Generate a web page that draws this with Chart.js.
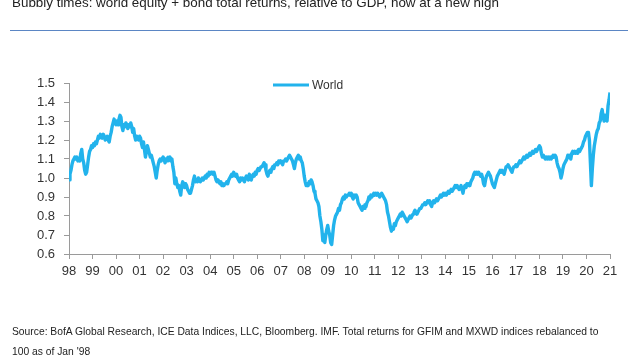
<!DOCTYPE html>
<html>
<head>
<meta charset="utf-8">
<script src="https://cdn.jsdelivr.net/npm/chart.js@4.4.1/dist/chart.umd.min.js"></script>
<style>
  html, body { margin: 0; padding: 0; background: #fff; }
  body { width: 640px; height: 360px; position: relative; overflow: hidden; font-family: "Liberation Sans", Arial, sans-serif; }
  #wrap { position: absolute; left: 0; top: 0; width: 640px; height: 360px; }
  #title { position: absolute; left: 12px; top: -4px; font-size: 13.4px; line-height: 13px; color: #222; white-space: nowrap; }
  #rule { position: absolute; left: 10px; top: 30px; width: 618px; height: 1px; background: #5b86c4; }
  #source { position: absolute; left: 12px; top: 322px; font-size: 10.3px; line-height: 20px; color: #222; white-space: nowrap; }
</style>
</head>
<body>
<div id="wrap"><canvas id="c" width="640" height="360"></canvas></div>
<div id="title">Bubbly times: world equity + bond total returns, relative to GDP, now at a new high</div>
<div id="rule"></div>
<div id="source">Source: BofA Global Research, ICE Data Indices, LLC, Bloomberg. IMF. Total returns for GFIM and MXWD indices rebalanced to<br>100 as of Jan '98</div>
<script>
// ---- data ----
const seriesName = "World";
const startYear = 1998;
const samplesPerYear = 24; // half-monthly readings
const yTicks = [0.6, 0.7, 0.8, 0.9, 1.0, 1.1, 1.2, 1.3, 1.4, 1.5];
const xYears = [1998, 2021];
const worldValues = [
  /*1998*/ 0.99,1.02,1.04,1.07,1.09,1.10,1.11,1.10,1.11,1.09,1.10,1.09,1.13,1.15,1.10,1.08,1.04,1.02,1.03,1.07,1.11,1.14,1.15,1.17,
  /*1999*/ 1.16,1.18,1.17,1.19,1.18,1.20,1.22,1.21,1.23,1.22,1.21,1.23,1.22,1.20,1.21,1.22,1.20,1.19,1.22,1.24,1.27,1.29,1.31,1.29,
  /*2000*/ 1.28,1.30,1.28,1.31,1.33,1.32,1.27,1.25,1.28,1.27,1.29,1.28,1.26,1.28,1.27,1.29,1.27,1.24,1.26,1.22,1.20,1.22,1.21,1.20,
  /*2001*/ 1.22,1.21,1.18,1.16,1.19,1.15,1.11,1.14,1.17,1.15,1.13,1.11,1.12,1.10,1.08,1.06,1.03,1.00,1.04,1.07,1.09,1.10,1.09,1.10,
  /*2002*/ 1.11,1.10,1.08,1.10,1.09,1.11,1.10,1.11,1.09,1.10,1.06,1.03,0.97,1.00,0.97,0.95,0.96,0.93,0.91,0.96,0.98,0.97,0.95,0.97,
  /*2003*/ 0.96,0.94,0.93,0.92,0.92,0.94,0.96,0.99,1.01,0.98,0.99,0.98,1.00,0.99,0.98,0.99,1.00,0.99,1.00,1.01,1.00,1.02,1.01,1.03,
  /*2004*/ 1.02,1.03,1.03,1.02,1.03,1.01,0.99,0.98,0.99,0.98,0.97,0.98,0.96,0.97,0.96,0.97,0.97,0.98,0.97,0.99,1.00,1.01,1.02,1.01,
  /*2005*/ 1.03,1.02,1.01,1.02,1.00,0.99,0.98,1.00,0.99,1.00,0.99,0.98,1.00,1.01,1.00,0.99,1.02,1.00,0.99,1.01,1.02,1.01,1.03,1.02,
  /*2006*/ 1.04,1.05,1.04,1.05,1.06,1.06,1.07,1.08,1.07,1.04,1.02,1.01,1.03,1.04,1.03,1.05,1.06,1.05,1.07,1.07,1.08,1.07,1.09,1.08,
  /*2007*/ 1.09,1.08,1.07,1.09,1.09,1.10,1.09,1.10,1.11,1.12,1.11,1.10,1.09,1.07,1.05,1.08,1.10,1.11,1.12,1.10,1.11,1.09,1.08,1.05,
  /*2008*/ 1.01,0.98,0.96,0.97,0.96,0.98,0.97,0.99,0.98,0.96,0.93,0.92,0.89,0.88,0.87,0.85,0.80,0.77,0.73,0.67,0.70,0.66,0.70,0.73,
  /*2009*/ 0.75,0.72,0.70,0.66,0.65,0.70,0.75,0.78,0.80,0.81,0.82,0.84,0.83,0.86,0.87,0.89,0.90,0.89,0.91,0.90,0.91,0.91,0.92,0.91,
  /*2010*/ 0.92,0.90,0.89,0.91,0.90,0.91,0.90,0.87,0.86,0.85,0.84,0.83,0.85,0.84,0.86,0.85,0.87,0.88,0.90,0.89,0.91,0.90,0.91,0.92,
  /*2011*/ 0.91,0.92,0.91,0.92,0.91,0.90,0.91,0.92,0.91,0.90,0.89,0.88,0.86,0.82,0.80,0.77,0.74,0.72,0.74,0.73,0.76,0.75,0.77,0.78,
  /*2012*/ 0.79,0.80,0.81,0.80,0.82,0.81,0.80,0.79,0.78,0.77,0.78,0.79,0.80,0.79,0.80,0.81,0.82,0.83,0.82,0.81,0.82,0.83,0.84,0.84,
  /*2013*/ 0.85,0.86,0.86,0.87,0.86,0.87,0.88,0.87,0.88,0.86,0.85,0.87,0.88,0.87,0.88,0.89,0.88,0.89,0.90,0.91,0.90,0.91,0.92,0.91,
  /*2014*/ 0.92,0.91,0.92,0.93,0.92,0.93,0.94,0.93,0.94,0.95,0.96,0.95,0.96,0.95,0.94,0.95,0.96,0.94,0.92,0.95,0.96,0.95,0.97,0.96,
  /*2015*/ 0.97,0.96,0.98,0.99,1.00,1.02,1.03,1.02,1.03,1.02,1.03,1.02,1.01,1.02,1.00,0.97,0.96,0.99,1.01,1.02,1.03,1.02,1.01,0.99,
  /*2016*/ 0.97,0.96,0.95,0.97,0.99,1.01,1.02,1.03,1.04,1.03,1.04,1.03,1.02,1.04,1.06,1.06,1.07,1.06,1.05,1.04,1.03,1.05,1.06,1.06,
  /*2017*/ 1.07,1.06,1.07,1.08,1.09,1.08,1.09,1.10,1.11,1.10,1.11,1.12,1.11,1.12,1.13,1.12,1.13,1.14,1.13,1.14,1.15,1.14,1.15,1.16,
  /*2018*/ 1.17,1.16,1.13,1.11,1.12,1.11,1.10,1.11,1.10,1.11,1.10,1.11,1.10,1.11,1.12,1.11,1.12,1.11,1.08,1.06,1.05,1.03,1.00,1.02,
  /*2019*/ 1.05,1.07,1.08,1.09,1.10,1.12,1.11,1.12,1.10,1.13,1.14,1.13,1.14,1.13,1.14,1.13,1.15,1.14,1.15,1.16,1.17,1.19,1.20,1.22,
  /*2020*/ 1.23,1.24,1.24,1.20,1.08,0.96,1.05,1.12,1.17,1.20,1.23,1.25,1.26,1.29,1.30,1.34,1.36,1.32,1.30,1.33,1.31,1.30,1.38,1.41,
  /*2021*/ 1.45
];
// ---- end data ----

const lineColor = '#22b3ec';
const points = worldValues.map((v, i) => ({ x: startYear + i / samplesPerYear, y: v }));

const legendPlugin = {
  id: 'inlineLegend',
  afterDraw(chart) {
    const ds = chart.data.datasets[0];
    const ctx = chart.ctx;
    const y = 85;
    ctx.save();
    ctx.strokeStyle = ds.borderColor;
    ctx.lineWidth = 3;
    ctx.beginPath();
    ctx.moveTo(273, y);
    ctx.lineTo(309, y);
    ctx.stroke();
    ctx.fillStyle = '#333';
    ctx.font = '12px "Liberation Sans", Arial, sans-serif';
    ctx.textBaseline = 'middle';
    ctx.textAlign = 'left';
    ctx.fillText(ds.label, 312, y + 0.5);
    ctx.restore();
  }
};

new Chart(document.getElementById('c'), {
  type: 'line',
  data: {
    datasets: [{
      label: seriesName,
      data: points,
      borderColor: lineColor,
      backgroundColor: lineColor,
      borderWidth: 3.4,
      pointRadius: 0,
      tension: 0,
      fill: false,
      borderJoinStyle: 'round'
    }]
  },
  options: {
    responsive: false,
    animation: false,
    parsing: true,
    layout: { padding: { top: 83, right: 30, bottom: 66, left: 0 } },
    plugins: { legend: { display: false }, tooltip: { enabled: false }, title: { display: false } },
    scales: {
      x: {
        type: 'linear',
        min: xYears[0],
        max: xYears[1],
        afterFit(scale) { scale.height = 40; },
        afterBuildTicks(scale) {
          const t = [];
          for (let yr = xYears[0]; yr <= xYears[1]; yr++) t.push({ value: yr });
          scale.ticks = t;
        },
        ticks: {
          autoSkip: false,
          maxRotation: 0,
          minRotation: 0,
          padding: 5,
          color: '#333',
          font: { family: '"Liberation Sans", Arial, sans-serif', size: 13 },
          callback: (v) => String(Math.round(v) % 100).padStart(2, '0')
        },
        grid: { display: true, drawOnChartArea: false, drawTicks: true, tickLength: 5, color: '#9a9a9a' },
        border: { display: true, color: '#9a9a9a', width: 1 }
      },
      y: {
        min: yTicks[0],
        max: yTicks[yTicks.length - 1],
        afterFit(scale) { scale.width = 69; },
        afterBuildTicks(scale) { scale.ticks = yTicks.map(v => ({ value: v })); },
        ticks: {
          padding: 9,
          color: '#333',
          font: { family: '"Liberation Sans", Arial, sans-serif', size: 13 },
          callback: (v) => Number(v).toFixed(1)
        },
        grid: { display: true, drawOnChartArea: false, drawTicks: true, tickLength: 5, color: '#9a9a9a' },
        border: { display: true, color: '#9a9a9a', width: 1 }
      }
    }
  },
  plugins: [legendPlugin]
});
</script>
</body>
</html>
